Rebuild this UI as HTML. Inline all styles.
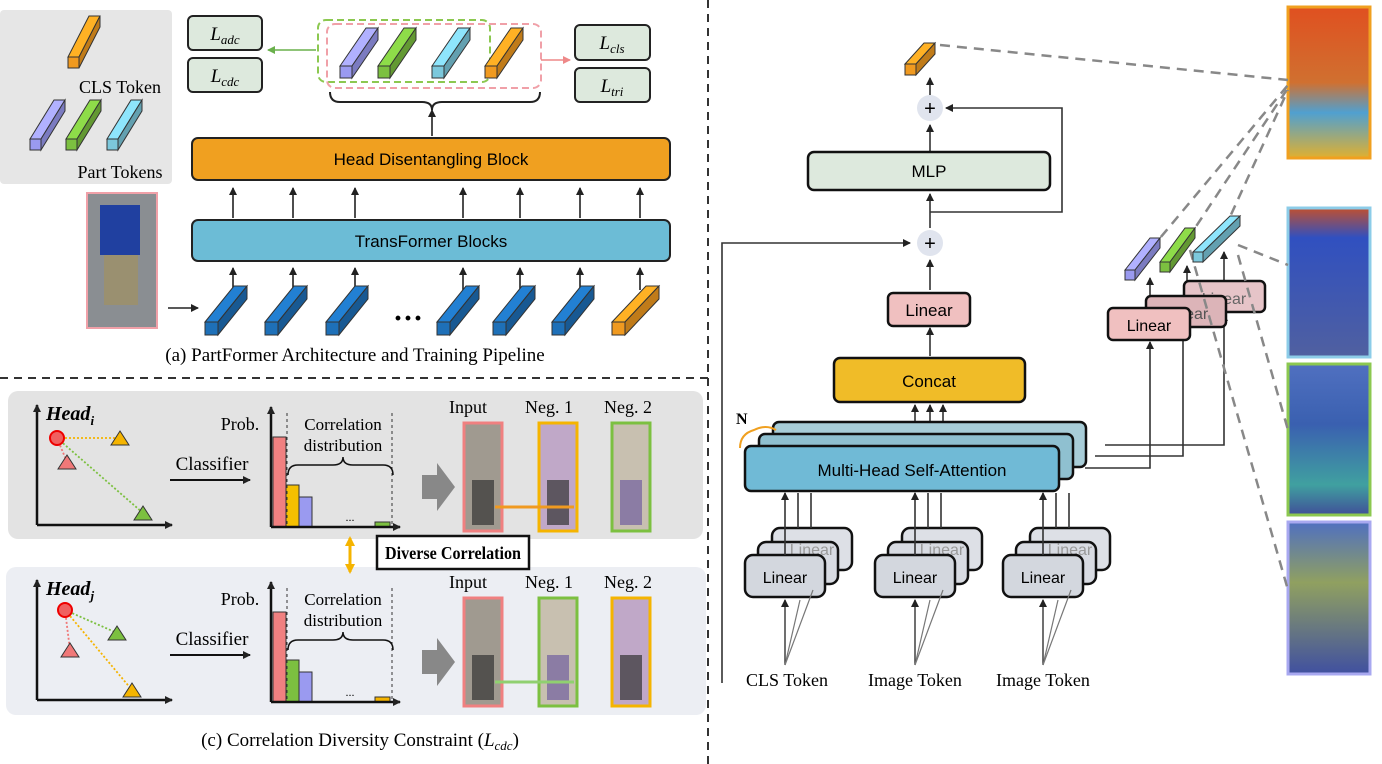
<!DOCTYPE html>
<html><head><meta charset="utf-8"><style>
html,body{margin:0;padding:0;background:#fff;width:1382px;height:764px;overflow:hidden}
svg{display:block}
.s{font-family:"Liberation Serif",serif}
.a{font-family:"Liberation Sans","DejaVu Sans",sans-serif}
</style></head><body>
<svg id="g" width="1382" height="764" viewBox="0 0 1382 764" xmlns="http://www.w3.org/2000/svg">
<defs>
<marker id="ar" markerWidth="8" markerHeight="8" refX="7" refY="4" orient="auto" markerUnits="userSpaceOnUse"><path d="M0,0 L8,4 L0,8 z" fill="#222"/></marker>
<marker id="arg" markerWidth="8" markerHeight="8" refX="7" refY="4" orient="auto" markerUnits="userSpaceOnUse"><path d="M0,0 L8,4 L0,8 z" fill="#6ab04c"/></marker>
<marker id="arp" markerWidth="8" markerHeight="8" refX="7" refY="4" orient="auto" markerUnits="userSpaceOnUse"><path d="M0,0 L8,4 L0,8 z" fill="#e88"/></marker>
<marker id="ary" markerWidth="10" markerHeight="10" refX="8" refY="5" orient="auto" markerUnits="userSpaceOnUse"><path d="M0,0 L10,5 L0,10 z" fill="#f5b400"/></marker>
<marker id="ary2" markerWidth="10" markerHeight="10" refX="2" refY="5" orient="auto" markerUnits="userSpaceOnUse"><path d="M10,0 L0,5 L10,10 z" fill="#f5b400"/></marker>
</defs>

<line x1="708" y1="0" x2="708" y2="764" stroke="#333" stroke-width="2" stroke-dasharray="8,6"/>
<line x1="0" y1="378" x2="708" y2="378" stroke="#333" stroke-width="2" stroke-dasharray="8,6"/>

<rect x="0" y="10" width="172" height="174" rx="4" fill="#e6e6e6"/>
<text x="120" y="93" class="s" font-size="18" text-anchor="middle">CLS Token</text>
<text x="120" y="178" class="s" font-size="18" text-anchor="middle">Part Tokens</text>
<rect x="87" y="193" width="70" height="135" fill="#8a8e92" stroke="#f0a0a8" stroke-width="2"/>
<rect x="100" y="205" width="40" height="50" fill="#2040a0"/>
<rect x="104" y="255" width="34" height="50" fill="#9a9070"/>

<rect x="192" y="138" width="478" height="42" rx="6" fill="#f0a020" stroke="#222" stroke-width="2"/>
<text x="431" y="165" class="a" font-size="17" text-anchor="middle">Head Disentangling Block</text>
<rect x="192" y="220" width="478" height="41" rx="6" fill="#6cbcd6" stroke="#222" stroke-width="2"/>
<text x="431" y="247" class="a" font-size="17" text-anchor="middle">TransFormer Blocks</text>
<g stroke="#222" stroke-width="1.6" marker-end="url(#ar)">
<line x1="233" y1="218" x2="233" y2="188"/><line x1="293" y1="218" x2="293" y2="188"/><line x1="355" y1="218" x2="355" y2="188"/>
<line x1="463" y1="218" x2="463" y2="188"/><line x1="520" y1="218" x2="520" y2="188"/><line x1="580" y1="218" x2="580" y2="188"/><line x1="640" y1="218" x2="640" y2="188"/>
<line x1="233" y1="290" x2="233" y2="268"/><line x1="293" y1="290" x2="293" y2="268"/><line x1="355" y1="290" x2="355" y2="268"/>
<line x1="463" y1="290" x2="463" y2="268"/><line x1="520" y1="290" x2="520" y2="268"/><line x1="580" y1="290" x2="580" y2="268"/><line x1="640" y1="290" x2="640" y2="268"/>
<line x1="168" y1="308" x2="198" y2="308"/>
<line x1="432" y1="136" x2="432" y2="110"/>
</g>
<text x="408" y="328" class="s" font-size="30" font-weight="bold" text-anchor="middle">···</text>
<path d="M330,92 q0,10 10,10 h82 q10,0 10,8 q0,-8 10,-8 h88 q10,0 10,-10" fill="none" stroke="#222" stroke-width="2"/>
<rect x="318" y="20" width="172" height="62" rx="8" fill="none" stroke="#8cc850" stroke-width="2" stroke-dasharray="7,4"/>
<rect x="327" y="24" width="214" height="64" rx="8" fill="none" stroke="#f0a0a8" stroke-width="2" stroke-dasharray="7,4"/>
<line x1="316" y1="50" x2="268" y2="50" stroke="#6ab04c" stroke-width="1.6" marker-end="url(#arg)"/>
<line x1="541" y1="60" x2="570" y2="60" stroke="#e88" stroke-width="1.6" marker-end="url(#arp)"/>

<g fill="#dde9dd" stroke="#222" stroke-width="2">
<rect x="188" y="16" width="74" height="34" rx="5"/><rect x="188" y="58" width="74" height="34" rx="5"/>
<rect x="575" y="25" width="75" height="35" rx="5"/><rect x="575" y="68" width="75" height="34" rx="5"/>
</g>
<g class="s" font-size="19" font-style="italic" text-anchor="middle">
<text x="225" y="40">L<tspan font-size="13" dy="4">adc</tspan></text>
<text x="225" y="82">L<tspan font-size="13" dy="4">cdc</tspan></text>
<text x="612" y="49">L<tspan font-size="13" dy="4">cls</tspan></text>
<text x="612" y="92">L<tspan font-size="13" dy="4">tri</tspan></text>
</g>
<text x="355" y="361" class="s" font-size="19" text-anchor="middle">(a) PartFormer Architecture and Training Pipeline</text>

<rect x="8" y="391" width="695" height="148" rx="10" fill="#e3e3e3"/>
<rect x="6" y="567" width="700" height="148" rx="10" fill="#eceef3"/>
<g id="cpanel"></g>
<text x="360" y="746" class="s" font-size="19" text-anchor="middle">(c) Correlation Diversity Constraint (<tspan font-style="italic">L</tspan><tspan font-style="italic" font-size="13" dy="4">cdc</tspan><tspan dy="-4">)</tspan></text>
<rect x="377" y="536" width="152" height="33" fill="#fff" stroke="#111" stroke-width="2.5"/>
<text x="453" y="559" class="s" font-size="18" font-weight="bold" text-anchor="middle" textLength="136" lengthAdjust="spacingAndGlyphs">Diverse Correlation</text>
<line x1="350" y1="538" x2="350" y2="572" stroke="#f5b400" stroke-width="3" marker-end="url(#ary)" marker-start="url(#ary2)"/>

<g stroke="#333" stroke-width="1.6" fill="none">
<line x1="930" y1="190" x2="930" y2="125" marker-end="url(#ar)"/>
<line x1="930" y1="95" x2="930" y2="78" marker-end="url(#ar)"/>
<line x1="930" y1="228" x2="930" y2="194" marker-end="url(#ar)"/>
<polyline points="930,212 1062,212 1062,108 946,108" marker-end="url(#ar)"/>
<line x1="930" y1="290" x2="930" y2="260" marker-end="url(#ar)"/>
<line x1="930" y1="356" x2="930" y2="328" marker-end="url(#ar)"/>
<polyline points="722,683 722,243 910,243" marker-end="url(#ar)"/>
<line x1="915" y1="445" x2="915" y2="405" marker-end="url(#ar)"/>
<line x1="930" y1="445" x2="930" y2="405" marker-end="url(#ar)"/>
<line x1="943" y1="445" x2="943" y2="405" marker-end="url(#ar)"/>
<polyline points="1085,468 1150,468 1150,342" marker-end="url(#ar)"/>
<polyline points="1095,456 1183,456 1183,328" marker-end="url(#ar)"/>
<polyline points="1105,445 1224,445 1224,314" marker-end="url(#ar)"/>
<line x1="1150" y1="306" x2="1150" y2="278" marker-end="url(#ar)"/>
<line x1="1187" y1="292" x2="1187" y2="266" marker-end="url(#ar)"/>
<line x1="1224" y1="282" x2="1224" y2="252" marker-end="url(#ar)"/>
</g>
<circle cx="930" cy="108" r="13" fill="#e0e4ee"/><text x="930" y="115" font-size="20" class="a" text-anchor="middle">+</text>
<circle cx="930" cy="243" r="13" fill="#e0e4ee"/><text x="930" y="250" font-size="20" class="a" text-anchor="middle">+</text>
<rect x="808" y="152" width="242" height="38" rx="6" fill="#dde9dd" stroke="#111" stroke-width="2.5"/>
<text x="929" y="177" class="a" font-size="17" text-anchor="middle">MLP</text>
<rect x="888" y="293" width="82" height="33" rx="5" fill="#f0c0c0" stroke="#111" stroke-width="2.5"/>
<text x="929" y="316" class="a" font-size="17" text-anchor="middle">Linear</text>
<rect x="834" y="358" width="191" height="44" rx="6" fill="#f0bc28" stroke="#111" stroke-width="2.5"/>
<text x="929" y="387" class="a" font-size="17" text-anchor="middle">Concat</text>
<rect x="773" y="422" width="313" height="45" rx="6" fill="#a8cdd8" stroke="#111" stroke-width="2.5"/>
<text x="929" y="451" class="a" font-size="16" fill="#7aa" text-anchor="middle">Self-Attention</text>
<rect x="759" y="434" width="314" height="45" rx="6" fill="#8fc0d0" stroke="#111" stroke-width="2.5"/>
<rect x="745" y="446" width="314" height="45" rx="6" fill="#70bad6" stroke="#111" stroke-width="2.5"/>
<text x="912" y="476" class="a" font-size="17" text-anchor="middle">Multi-Head Self-Attention</text>
<path d="M740,448 q0,-14 14,-18 q12,-6 22,0" fill="none" stroke="#f0a020" stroke-width="2"/>
<text x="736" y="424" class="s" font-size="16" font-weight="bold">N</text>
<g id="lin"></g>
<g class="s" font-size="18" text-anchor="middle">
<text x="787" y="686">CLS Token</text><text x="915" y="686">Image Token</text><text x="1043" y="686">Image Token</text>
</g>
<rect x="1184" y="281" width="81" height="31" rx="5" fill="#e6c4c8" stroke="#111" stroke-width="2.5"/>
<text x="1224" y="304" class="a" font-size="16" fill="#666" text-anchor="middle">Linear</text>
<rect x="1146" y="296" width="80" height="31" rx="5" fill="#dcb4b8" stroke="#111" stroke-width="2.5"/>
<text x="1186" y="319" class="a" font-size="16" fill="#555" text-anchor="middle">Linear</text>
<rect x="1108" y="308" width="82" height="32" rx="5" fill="#f0c0c0" stroke="#111" stroke-width="2.5"/>
<text x="1149" y="331" class="a" font-size="16" text-anchor="middle">Linear</text>
<defs>
<linearGradient id="h1" x1="0" y1="0" x2="0" y2="1"><stop offset="0" stop-color="#e05020"/><stop offset="0.5" stop-color="#d07030"/><stop offset="0.7" stop-color="#50a0d0"/><stop offset="1" stop-color="#e0b030"/></linearGradient>
<linearGradient id="h2" x1="0" y1="0" x2="0" y2="1"><stop offset="0" stop-color="#c05030"/><stop offset="0.2" stop-color="#3050c0"/><stop offset="1" stop-color="#5060a0"/></linearGradient>
<linearGradient id="h3" x1="0" y1="0" x2="0" y2="1"><stop offset="0" stop-color="#5070c0"/><stop offset="0.4" stop-color="#3a60b0"/><stop offset="0.8" stop-color="#40a0a0"/><stop offset="1" stop-color="#405098"/></linearGradient>
<linearGradient id="h4" x1="0" y1="0" x2="0" y2="1"><stop offset="0" stop-color="#5070c0"/><stop offset="0.4" stop-color="#90a060"/><stop offset="1" stop-color="#4050a0"/></linearGradient>
</defs>
<rect x="1288" y="7" width="82" height="151" fill="url(#h1)" stroke="#f0a020" stroke-width="3"/>
<rect x="1288" y="208" width="82" height="149" fill="url(#h2)" stroke="#8ccce8" stroke-width="3"/>
<rect x="1288" y="364" width="82" height="151" fill="url(#h3)" stroke="#8cc850" stroke-width="3"/>
<rect x="1288" y="522" width="82" height="152" fill="url(#h4)" stroke="#a8a8f0" stroke-width="3"/>
<g stroke="#888" stroke-width="2.5" stroke-dasharray="10,7" fill="none">
<line x1="940" y1="45" x2="1288" y2="80"/>
<line x1="1150" y1="250" x2="1288" y2="85"/><line x1="1187" y1="240" x2="1288" y2="88"/><line x1="1224" y1="230" x2="1288" y2="90"/>
<line x1="1238" y1="245" x2="1288" y2="265"/>
<line x1="1238" y1="255" x2="1288" y2="430"/>
<line x1="1190" y1="250" x2="1288" y2="590"/>
</g>
</svg>
<script>
var NS="http://www.w3.org/2000/svg",g=document.getElementById("g");
function el(t,a,p){var e=document.createElementNS(NS,t);for(var k in a)e.setAttribute(k,a[k]);(p||g).appendChild(e);return e;}
function shade(c,f){var n=parseInt(c.slice(1),16),r=(n>>16)*f,gg=((n>>8)&255)*f,b=(n&255)*f;return "rgb("+Math.min(255,r|0)+","+Math.min(255,gg|0)+","+Math.min(255,b|0)+")";}
function tok(x,y,w,h,s,c){var Y0=y+h-s,dx=w-s,dy=h-s,st={stroke:"#333","stroke-width":1};
el("polygon",Object.assign({points:[x,Y0,x+dx,Y0-dy,x+s+dx,Y0-dy,x+s,Y0].join(" "),fill:shade(c,1.15)},st));
el("polygon",Object.assign({points:[x+s,Y0,x+s+dx,Y0-dy,x+s+dx,Y0-dy+s,x+s,Y0+s].join(" "),fill:shade(c,0.8)},st));
el("rect",Object.assign({x:x,y:Y0,width:s,height:s,fill:c},st));}
var O="#f09a20",B="#1e70b8",P="#9a9af0",G="#7cc040",C="#7cc8dc";
tok(68,16,32,52,11,O);tok(30,100,35,50,11,P);tok(66,100,35,50,11,G);tok(107,100,35,50,11,C);
[205,265,326,437,493,552].forEach(function(x){tok(x,286,42,49,13,B)});tok(612,286,47,49,13,O);
tok(340,28,38,50,12,P);tok(378,28,38,50,12,G);tok(432,28,38,50,12,C);tok(485,28,38,50,12,O);
tok(905,43,30,32,11,O);
tok(1125,238,35,42,10,P);tok(1160,228,35,44,10,G);tok(1193,216,47,46,10,C);
[[745,555],[875,555],[1003,555]].forEach(function(p){var x=p[0],y=p[1];
el("rect",{x:x+27,y:y-27,width:80,height:42,rx:8,fill:"#dde0e6",stroke:"#111","stroke-width":2.5});
el("rect",{x:x+13,y:y-13,width:80,height:42,rx:8,fill:"#d8dbe2",stroke:"#111","stroke-width":2.5});
var t=el("text",{x:x+67,y:y+0,"font-size":16,fill:"#999","text-anchor":"middle","class":"a"});t.textContent="Linear";
el("rect",{x:x,y:y,width:80,height:42,rx:8,fill:"#d3d7de",stroke:"#111","stroke-width":2.5});
t=el("text",{x:x+40,y:y+28,"font-size":16,"text-anchor":"middle","class":"a"});t.textContent="Linear";
[x+40,x+53,x+66].forEach(function(xx,i){el("line",{x1:xx,y1:y-(i?27:0),x2:xx,y2:493,stroke:"#333","stroke-width":1.6,"marker-end":i?"":"url(#ar)"});});
el("line",{x1:x+40,y1:665,x2:x+40,y2:600,stroke:"#333","stroke-width":1.4,"marker-end":"url(#ar)"});
el("line",{x1:x+40,y1:665,x2:x+55,y2:600,stroke:"#777","stroke-width":1.2});
el("line",{x1:x+40,y1:665,x2:x+68,y2:590,stroke:"#777","stroke-width":1.2});
});
var cp=document.getElementById("cpanel");
function row(y0,top){
el("line",{x1:37,y1:y0+130,x2:37,y2:y0+10,stroke:"#111","stroke-width":2.5,"marker-end":"url(#ar)"},cp);
el("line",{x1:37,y1:y0+130,x2:172,y2:y0+130,stroke:"#111","stroke-width":2.5,"marker-end":"url(#ar)"},cp);
var t=el("text",{x:46,y:y0+25,"font-size":20,"font-weight":"bold","font-style":"italic","class":"s"},cp);t.innerHTML=top?'Head<tspan font-size="13" dy="5">i</tspan>':'Head<tspan font-size="13" dy="5">j</tspan>';
var cy=top?y0+43:y0+40, cx=top?57:65;
var t1=top?[[120,y0+43,"#f5b400"],[67,y0+67,"#f07878"],[143,y0+118,"#7cc040"]]:[[117,y0+63,"#7cc040"],[70,y0+80,"#f07878"],[132,y0+120,"#f5b400"]];
var lc=top?["#f5b400","#f07878","#7cc040"]:["#7cc040","#f07878","#f5b400"];
t1.forEach(function(p,i){el("line",{x1:cx,y1:cy,x2:p[0],y2:p[1],stroke:lc[i],"stroke-width":1.8,"stroke-dasharray":"2,2"},cp);});
t1.forEach(function(p){el("polygon",{points:[p[0]-9,p[1]+7,p[0],p[1]-7,p[0]+9,p[1]+7].join(" "),fill:p[2],stroke:"#333","stroke-width":1},cp);});
el("circle",{cx:cx,cy:cy,r:7,fill:"#f06060",stroke:"#e00","stroke-width":2},cp);
t=el("text",{x:212,y:y0+75,"font-size":19,"text-anchor":"middle","class":"s"},cp);t.textContent="Classifier";
el("line",{x1:170,y1:y0+85,x2:250,y2:y0+85,stroke:"#111","stroke-width":2,"marker-end":"url(#ar)"},cp);
t=el("text",{x:240,y:y0+35,"font-size":18,"text-anchor":"middle","class":"s"},cp);t.textContent="Prob.";
var bx=273,by=y0+132;
var cols=top?["#f08080","#f5c000","#9a9af0"]:["#f08080","#7cc040","#9a9af0"];
var hs=[90,42,30];
cols.forEach(function(c,i){el("rect",{x:bx+i*13,y:by-hs[i],width:13,height:hs[i],fill:c,stroke:"#333","stroke-width":1},cp);});
el("rect",{x:375,y:by-5,width:15,height:5,fill:top?"#7cc040":"#f5b400",stroke:"#333","stroke-width":1},cp);
t=el("text",{x:350,y:by-6,"font-size":12,"text-anchor":"middle","class":"s"},cp);t.textContent="...";
el("line",{x1:bx-2,y1:by,x2:bx-2,y2:y0+12,stroke:"#111","stroke-width":2.5,"marker-end":"url(#ar)"},cp);
el("line",{x1:bx-2,y1:by,x2:400,y2:by,stroke:"#111","stroke-width":2.5,"marker-end":"url(#ar)"},cp);
el("line",{x1:287,y1:y0+18,x2:287,y2:by,stroke:"#333","stroke-dasharray":"3,3"},cp);
el("line",{x1:392,y1:y0+18,x2:392,y2:by,stroke:"#333","stroke-dasharray":"3,3"},cp);
t=el("text",{x:343,y:y0+35,"font-size":17,"text-anchor":"middle","class":"s"},cp);t.textContent="Correlation";
t=el("text",{x:343,y:y0+56,"font-size":17,"text-anchor":"middle","class":"s"},cp);t.textContent="distribution";
el("path",{d:"M288,"+(y0+80)+" q0,-10 10,-10 h35 q10,0 10,-8 q0,8 10,8 h30 q10,0 10,10",fill:"none",stroke:"#111","stroke-width":1.5},cp);
el("polygon",{points:[422,y0+80,437,y0+80,437,y0+68,455,y0+92,437,y0+116,437,y0+104,422,y0+104].join(" "),fill:"#888"},cp);
var labs=[["Input",468],["Neg. 1",549],["Neg. 2",628]];
labs.forEach(function(l){t=el("text",{x:l[1],y:y0+18,"font-size":18,"text-anchor":"middle","class":"s"},cp);t.textContent=l[0];});
var bc=top?["#f08080","#f5b400","#7cc040"]:["#f08080","#7cc040","#f5b400"];
var fc=top?["#a09a90","#c0a8c8","#c8c0b0"]:["#a09a90","#c8c0b0","#c0a8c8"];
[464,539,612].forEach(function(x,i){el("rect",{x:x,y:y0+28,width:38,height:108,fill:fc[i],stroke:bc[i],"stroke-width":3},cp);
el("rect",{x:x+8,y:y0+85,width:22,height:45,fill:i==0?"#333":(fc[i]=="#c8c0b0"?"#7060a0":"#333"),opacity:0.7},cp);});
el("line",{x1:495,y1:y0+112,x2:574,y2:y0+112,stroke:top?"#f09a20":"#90d070","stroke-width":3},cp);
}
row(395,true);row(570,false);
</script>
</body></html>
